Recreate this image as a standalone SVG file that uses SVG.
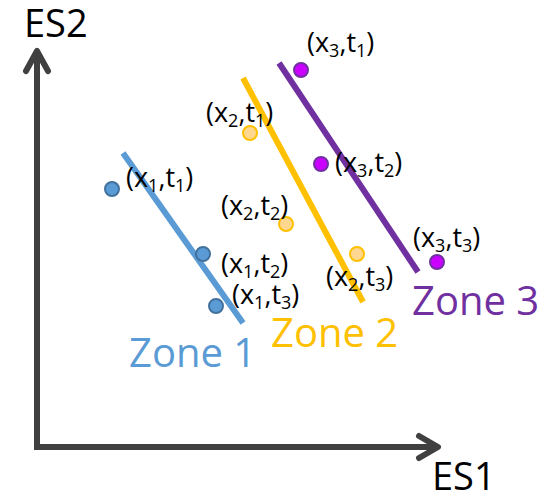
<svg xmlns="http://www.w3.org/2000/svg" width="552" height="496" viewBox="0 0 552 496">
  <style>
    .axis { fill: none; stroke: #404040; stroke-width: 6; }
    .head { fill: none; stroke: #404040; stroke-width: 6; stroke-linecap: round; stroke-linejoin: round; }
    .axlbl { font-family: "Open Sans", "Liberation Sans", sans-serif; font-size: 38px; fill: #000; }
    .zone { font-family: "Open Sans", "Liberation Sans", sans-serif; font-size: 40px; }
    .lbl { font-family: "Open Sans", "Liberation Sans", sans-serif; font-size: 27px; fill: #000; }
    .sub { font-size: 18px; }
    .zl { fill: none; stroke-width: 6; }
    .p1 { fill: #5B9BD5; stroke: #41719C; stroke-width: 2; }
    .p2 { fill: #FFD78F; stroke: #FFC000; stroke-width: 2; }
    .p3 { fill: #CC00FF; stroke: #7030A0; stroke-width: 2; }
  </style>
  <g id="axes">
    <path class="axis" d="M37,52 V447 H437"/>
    <path class="head" d="M26,71 L37,51 L48,71"/>
    <path class="head" d="M419,436 L438,447 L419,458"/>
    <text class="axlbl" x="24" y="37">ES2</text>
    <text class="axlbl" x="432" y="490">ES1</text>
  </g>
  <g id="connectors">
    <line class="zl" x1="123" y1="153" x2="243" y2="323" stroke="#5B9BD5"/>
    <line class="zl" x1="243" y1="78" x2="363" y2="302" stroke="#FFC000"/>
    <line class="zl" x1="279" y1="63" x2="418" y2="272" stroke="#7030A0"/>
  </g>
  <g id="zone1">
    <text class="zone" x="129" y="367" fill="#5B9BD5">Zone 1</text>
    <g id="x1t1"><circle class="p1" cx="112" cy="189" r="7"/>
      <text class="lbl" x="126" y="187">(x<tspan class="sub" dy="5">1</tspan><tspan dy="-5">,t</tspan><tspan class="sub" dy="5">1</tspan><tspan dy="-5">)</tspan></text></g>
    <g id="x1t2"><circle class="p1" cx="203" cy="254" r="7"/>
      <text class="lbl" x="221" y="273">(x<tspan class="sub" dy="5">1</tspan><tspan dy="-5">,t</tspan><tspan class="sub" dy="5">2</tspan><tspan dy="-5">)</tspan></text></g>
    <g id="x1t3"><circle class="p1" cx="216" cy="306" r="7"/>
      <text class="lbl" x="232" y="304">(x<tspan class="sub" dy="5">1</tspan><tspan dy="-5">,t</tspan><tspan class="sub" dy="5">3</tspan><tspan dy="-5">)</tspan></text></g>
  </g>
  <g id="zone2">
    <text class="zone" x="271" y="347" fill="#FFC000">Zone 2</text>
    <g id="x2t1"><circle class="p2" cx="250" cy="133" r="7"/>
      <text class="lbl" x="206" y="122">(x<tspan class="sub" dy="5">2</tspan><tspan dy="-5">,t</tspan><tspan class="sub" dy="5">1</tspan><tspan dy="-5">)</tspan></text></g>
    <g id="x2t2"><circle class="p2" cx="286" cy="224" r="7"/>
      <text class="lbl" x="221" y="215">(x<tspan class="sub" dy="5">2</tspan><tspan dy="-5">,t</tspan><tspan class="sub" dy="5">2</tspan><tspan dy="-5">)</tspan></text></g>
    <g id="x2t3"><circle class="p2" cx="357" cy="254" r="7"/>
      <text class="lbl" x="326" y="286">(x<tspan class="sub" dy="5">2</tspan><tspan dy="-5">,t</tspan><tspan class="sub" dy="5">3</tspan><tspan dy="-5">)</tspan></text></g>
  </g>
  <g id="zone3">
    <text class="zone" x="412" y="315" fill="#7030A0">Zone 3</text>
    <g id="x3t1"><circle class="p3" cx="301" cy="70" r="7"/>
      <text class="lbl" x="307" y="52">(x<tspan class="sub" dy="5">3</tspan><tspan dy="-5">,t</tspan><tspan class="sub" dy="5">1</tspan><tspan dy="-5">)</tspan></text></g>
    <g id="x3t2"><circle class="p3" cx="321" cy="164" r="7"/>
      <text class="lbl" x="335" y="172">(x<tspan class="sub" dy="5">3</tspan><tspan dy="-5">,t</tspan><tspan class="sub" dy="5">2</tspan><tspan dy="-5">)</tspan></text></g>
    <g id="x3t3"><circle class="p3" cx="437" cy="262" r="7"/>
      <text class="lbl" x="413" y="247">(x<tspan class="sub" dy="5">3</tspan><tspan dy="-5">,t</tspan><tspan class="sub" dy="5">3</tspan><tspan dy="-5">)</tspan></text></g>
  </g>
</svg>
